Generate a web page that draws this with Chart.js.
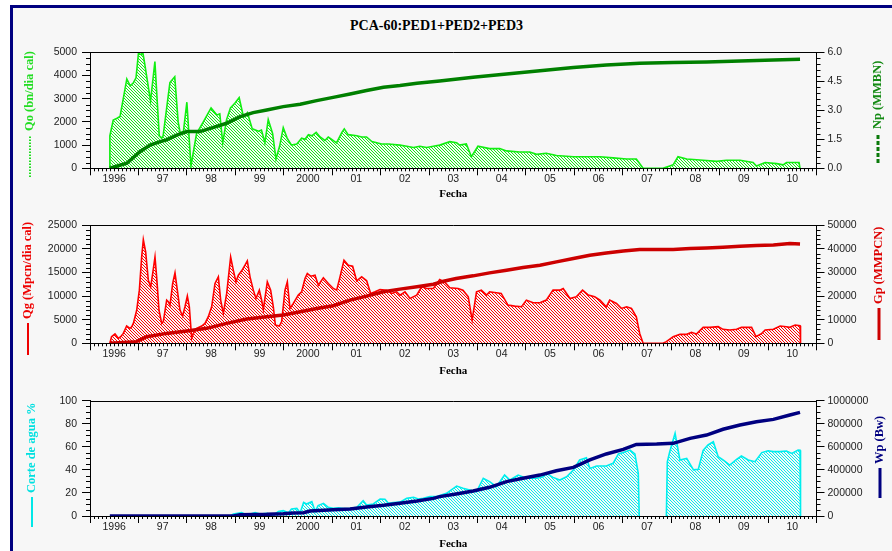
<!DOCTYPE html>
<html>
<head>
<meta charset="utf-8">
<script src="https://cdn.jsdelivr.net/npm/chart.js@4.4.0/dist/chart.umd.min.js"></script>
<style>
  body { margin: 0; background: #fff; }
  #page { position: relative; width: 892px; height: 551px; overflow: hidden; }
  #frame { position: absolute; left: 10px; top: 5px; right: 0; bottom: 0; background: #f7f7f7;
           border-top: 3px solid #000080; border-left: 3px solid #000080; }
  #title { position: absolute; left: 0; width: 873px; top: 18px; text-align: center;
           font: bold 14px "Liberation Serif"; color: #000; }
  canvas { position: absolute; left: 0; }
</style>
</head>
<body>
<div id="page">
  <div id="frame"></div>
  <div id="title">PCA-60:PED1+PED2+PED3</div>
  <canvas id="c1" width="892" height="170" style="top:40px"></canvas>
  <canvas id="c2" width="892" height="168" style="top:212px"></canvas>
  <canvas id="c3" width="892" height="163" style="top:388px"></canvas>
</div>
<script>
// values, x = decimal year
const yearLabels = ['1996', '97', '98', '99', '2000', '01', '02', '03', '04', '05', '06', '07', '08', '09', '10'];

// Qo (bn/dia cal)
const qoSeries = [
  [1996.40, 0], [1996.41, 1400], [1996.48, 2080], [1996.55, 2150], [1996.62, 2230], [1996.76, 3850],
  [1996.83, 3550], [1996.90, 3700], [1996.95, 3900], [1997.00, 4950], [1997.06, 4900], [1997.09, 5000],
  [1997.13, 4500], [1997.25, 2900], [1997.34, 4600], [1997.43, 1400], [1997.48, 1300], [1997.51, 1400],
  [1997.65, 3700], [1997.75, 3950], [1997.82, 2000], [1997.86, 1550], [1997.91, 1550], [1997.93, 1600],
  [1998.00, 2850], [1998.085, 100], [1998.20, 1500], [1998.34, 2000], [1998.50, 2600], [1998.62, 2300],
  [1998.68, 2350], [1998.74, 1100], [1998.82, 2100], [1998.90, 2600], [1998.99, 2800], [1999.08, 3050],
  [1999.17, 2200], [1999.25, 2400], [1999.35, 1700], [1999.48, 1600], [1999.54, 1650], [1999.61, 1100],
  [1999.68, 2100], [1999.77, 1500], [1999.84, 400], [1999.92, 1000], [1999.99, 1750], [2000.07, 1300],
  [2000.16, 1000], [2000.27, 1050], [2000.37, 1300], [2000.44, 1250], [2000.51, 1450], [2000.58, 1400],
  [2000.67, 1550], [2000.75, 1350], [2000.85, 1200], [2000.92, 1350], [2000.99, 1250], [2001.09, 1100],
  [2001.20, 1550], [2001.25, 1700], [2001.33, 1450], [2001.51, 1400], [2001.61, 1350], [2001.71, 1350],
  [2001.82, 1150], [2001.92, 1100], [2002.02, 1050], [2002.16, 1050], [2002.40, 1000], [2002.54, 950],
  [2002.68, 900], [2002.81, 950], [2002.95, 900], [2003.09, 950], [2003.22, 1000], [2003.43, 1150],
  [2003.57, 1100], [2003.63, 1000], [2003.77, 1050], [2003.875, 500], [2004.01, 950], [2004.25, 850],
  [2004.46, 850], [2004.60, 750], [2004.87, 700], [2005.08, 700], [2005.22, 600], [2005.42, 650],
  [2005.63, 550], [2005.98, 500], [2006.25, 500], [2006.53, 500], [2006.80, 450], [2007.08, 400],
  [2007.28, 400], [2007.42, 0], [2007.83, 0], [2007.97, 100], [2008.04, 150], [2008.14, 500],
  [2008.32, 400], [2008.66, 350], [2008.94, 300], [2009.14, 350], [2009.42, 350], [2009.69, 250],
  [2009.76, 100], [2009.94, 250], [2010.18, 200], [2010.31, 150], [2010.38, 250], [2010.64, 250],
  [2010.66, 0]
];

// Np (MMBN)
const npSeries = [
  [1996.41, 0], [1996.76, 0.26], [1997.03, 0.86], [1997.24, 1.2], [1997.45, 1.38], [1997.58, 1.47],
  [1997.79, 1.72], [1998.00, 1.9], [1998.27, 1.9], [1998.55, 2.12], [1998.82, 2.33], [1999.10, 2.67],
  [1999.37, 2.88], [1999.65, 3.02], [1999.99, 3.19], [2000.34, 3.31], [2000.68, 3.5], [2001.02, 3.67],
  [2001.37, 3.84], [2001.71, 4.02], [2002.06, 4.19], [2002.40, 4.28], [2002.75, 4.4], [2003.22, 4.52],
  [2003.91, 4.71], [2004.60, 4.88], [2005.29, 5.05], [2005.98, 5.21], [2006.66, 5.34], [2007.35, 5.43],
  [2008.04, 5.47], [2008.73, 5.5], [2009.42, 5.55], [2010.11, 5.6], [2010.66, 5.64]
];

// Qg (Mpcn/dia cal)
const qgSeries = [
  [1996.41, 0], [1996.445, 1400], [1996.516, 1970], [1996.585, 1050], [1996.633, 1400], [1996.688, 2100],
  [1996.757, 3660], [1996.826, 3170], [1996.86, 3500], [1996.895, 4220], [1996.964, 7000], [1997.019, 11260],
  [1997.067, 18300], [1997.101, 21960], [1997.149, 19360], [1997.204, 13380], [1997.253, 11970], [1997.294, 14780],
  [1997.342, 18300], [1997.376, 14080], [1997.425, 7040], [1997.48, 4220], [1997.514, 4580], [1997.583, 9150],
  [1997.617, 8800], [1997.652, 8100], [1997.707, 12670], [1997.755, 14920], [1997.803, 11260], [1997.858, 7040],
  [1997.913, 5770], [1997.961, 7740], [1998.01, 10000], [1998.051, 7740], [1998.099, 1050], [1998.134, 2100],
  [1998.202, 3170], [1998.306, 3660], [1998.374, 4220], [1998.443, 5630], [1998.512, 7740], [1998.581, 12670],
  [1998.65, 14080], [1998.698, 9150], [1998.753, 6340], [1998.822, 10560], [1998.904, 18300], [1998.959, 15490],
  [1999.014, 13020], [1999.063, 14430], [1999.131, 15350], [1999.2, 16540], [1999.248, 17460], [1999.304, 14080],
  [1999.372, 11260], [1999.427, 9500], [1999.496, 11260], [1999.544, 9150], [1999.579, 7180], [1999.661, 13020],
  [1999.73, 11260], [1999.785, 7740], [1999.827, 3870], [1999.909, 3660], [1999.957, 4580], [2000.026, 11260],
  [2000.074, 13020], [2000.129, 7390], [2000.198, 8450], [2000.301, 10210], [2000.37, 10910], [2000.439, 13730],
  [2000.487, 14780], [2000.556, 14220], [2000.646, 14430], [2000.714, 12320], [2000.818, 13870], [2000.921, 12670],
  [2001.024, 11620], [2001.093, 11260], [2001.162, 14080], [2001.244, 17600], [2001.334, 16540], [2001.423, 16330],
  [2001.506, 13240], [2001.609, 14080], [2001.712, 13240], [2001.795, 10560], [2001.884, 10910], [2001.988, 11400],
  [2002.125, 11260], [2002.228, 10560], [2002.332, 10910], [2002.401, 10210], [2002.504, 10910], [2002.607, 9500],
  [2002.745, 10210], [2002.848, 11970], [2002.951, 11620], [2003.089, 11620], [2003.22, 13500], [2003.32, 13000],
  [2003.43, 11760], [2003.6, 11620], [2003.7, 11260], [2003.81, 9860], [2003.89, 4930], [2003.98, 10910],
  [2004.08, 11260], [2004.19, 10210], [2004.25, 10910], [2004.39, 10700], [2004.49, 10560], [2004.63, 8100],
  [2004.77, 7880], [2004.91, 7740], [2005.01, 9150], [2005.15, 8590], [2005.29, 8590], [2005.42, 9150],
  [2005.56, 11260], [2005.7, 11260], [2005.77, 11620], [2005.91, 9500], [2006.04, 9860], [2006.17, 11260],
  [2006.29, 10210], [2006.42, 9860], [2006.53, 9150], [2006.66, 7740], [2006.73, 9150], [2006.87, 8450],
  [2006.97, 7390], [2007.08, 7740], [2007.18, 7390], [2007.28, 5630], [2007.35, 2100], [2007.42, 0],
  [2007.83, 0], [2007.9, 350], [2008.04, 1400], [2008.18, 1900], [2008.32, 1900], [2008.42, 2320],
  [2008.52, 1970], [2008.66, 3380], [2008.8, 3380], [2008.97, 3520], [2009.07, 2960], [2009.21, 2820],
  [2009.35, 2960], [2009.45, 3380], [2009.66, 3380], [2009.75, 1400], [2009.87, 2100], [2009.94, 2820],
  [2010.11, 2960], [2010.25, 3660], [2010.38, 3520], [2010.45, 3380], [2010.56, 3870], [2010.66, 3730],
  [2010.67, 0]
];

// Gp (MMPCN)
const gpSeries = [
  [1996.41, 0], [1996.96, 700], [1997.17, 2800], [1997.58, 4200], [1998.0, 5200], [1998.41, 6340],
  [1998.82, 8450], [1999.24, 10280], [1999.65, 11260], [1999.99, 11970], [2000.34, 13380], [2000.68, 14780],
  [2001.02, 15910], [2001.37, 18300], [2001.71, 20000], [2002.06, 21820], [2002.4, 22950], [2002.75, 23940],
  [2003.09, 25000], [2003.3, 26300], [2003.56, 27460], [2003.91, 28580], [2004.25, 29850], [2004.6, 30980],
  [2004.94, 32100], [2005.29, 33090], [2005.63, 34500], [2005.98, 35900], [2006.32, 37310], [2006.66, 38300],
  [2007.01, 39140], [2007.35, 39700], [2007.7, 39700], [2008.04, 39700], [2008.39, 40130], [2008.73, 40410],
  [2009.07, 40690], [2009.42, 41110], [2009.76, 41400], [2010.11, 41680], [2010.45, 42240], [2010.66, 42100]
];

// Corte de agua %
const wcSeries = [
  [1996.41, 0], [1998.9, 0], [1998.96, 1.7], [1999.13, 2.9], [1999.24, 0.9], [1999.41, 2.9], [1999.51, 1.7],
  [1999.65, 2.3], [1999.79, 0.9], [1999.89, 3.8], [1999.99, 4.6], [2000.1, 2.9], [2000.16, 6.1], [2000.27, 6.6],
  [2000.34, 2.9], [2000.41, 11.8], [2000.47, 10.4], [2000.58, 12.4], [2000.65, 3.8], [2000.71, 9], [2000.82, 11],
  [2000.92, 7.5], [2001.02, 6.6], [2001.13, 7.2], [2001.23, 6.4], [2001.37, 6.6], [2001.51, 7.5], [2001.64, 13.3],
  [2001.71, 9.5], [2001.85, 10.4], [2001.99, 14.7], [2002.09, 14.5], [2002.16, 11], [2002.26, 11.6], [2002.4, 12],
  [2002.54, 15.3], [2002.68, 16.2], [2002.78, 14.7], [2002.88, 15.3], [2003.02, 16.8], [2003.16, 16.8],
  [2003.36, 19.7], [2003.57, 26], [2003.7, 24], [2003.84, 22.5], [2003.98, 21], [2004.12, 32.7], [2004.25, 29.8],
  [2004.39, 25.4], [2004.56, 35.5], [2004.67, 31.2], [2004.84, 35.5], [2005.01, 32.7], [2005.22, 32.7],
  [2005.36, 34], [2005.42, 37], [2005.56, 33.5], [2005.7, 31.2], [2005.84, 34], [2005.98, 39.9], [2006.11, 48.6],
  [2006.25, 50.6], [2006.32, 41.3], [2006.46, 43.4], [2006.66, 43.4], [2006.8, 45.7], [2006.91, 53.8],
  [2007.01, 55], [2007.15, 57.2], [2007.25, 53.8], [2007.32, 37], [2007.34, 0], [2007.6, null],
  [2007.9, 0], [2007.92, 47], [2007.97, 55.8], [2008.08, 71.7], [2008.18, 48.6], [2008.32, 50], [2008.46, 40],
  [2008.56, 40.5], [2008.66, 57], [2008.76, 61.6], [2008.87, 64.5], [2008.97, 51.4], [2009.07, 48.6],
  [2009.21, 44.2], [2009.35, 49], [2009.45, 52], [2009.59, 48.6], [2009.73, 47.1], [2009.87, 55], [2010.0, 56.6],
  [2010.11, 55.8], [2010.25, 55.8], [2010.38, 56.4], [2010.49, 54.3], [2010.62, 57.2], [2010.66, 57],
  [2010.67, 0]
];

// Wp (Bw)
const wpSeries = [
  [1996.41, 0], [1998.96, 0], [1999.1, 11500], [1999.65, 14500], [1999.99, 20000], [2000.2, 26000],
  [2000.41, 29000], [2000.54, 43000], [2001.02, 55000], [2001.37, 61000], [2001.71, 78000], [2002.06, 92500],
  [2002.4, 110000], [2002.75, 130000], [2003.09, 153000], [2003.22, 168000], [2003.56, 191000], [2003.91, 217000],
  [2004.25, 249000], [2004.6, 298000], [2004.94, 327000], [2005.29, 355000], [2005.63, 393000], [2005.98, 422000],
  [2006.32, 486000], [2006.66, 538000], [2007.01, 578000], [2007.28, 621000], [2007.7, 624000], [2008.04, 630000],
  [2008.39, 673000], [2008.73, 702000], [2009.07, 752000], [2009.42, 789000], [2009.76, 818000], [2010.11, 838000],
  [2010.45, 876000], [2010.66, 899000]
];

Chart.defaults.font.family = 'Liberation Sans';
Chart.defaults.font.size = 10.5;
Chart.defaults.color = '#222';

function hatch(color) {
  const c = document.createElement('canvas');
  c.width = 3; c.height = 3;
  const g = c.getContext('2d');
  g.fillStyle = color;
  for (let i = 0; i < 3; i++) g.fillRect(i, i, 1, 1);
  return g.createPattern(c, 'repeat');
}

const toPoints = s => s.map(p => ({ x: p[0], y: p[1] }));

// small monthly / sub-division tick marks on the axes
const minorTicks = {
  id: 'minorTicks',
  afterDraw(chart, args, opts) {
    const ctx = chart.ctx;
    ctx.save();
    ctx.strokeStyle = '#000';
    ctx.lineWidth = 1;
    ctx.beginPath();
    for (const [id, step, every, len] of opts.list) {
      const s = chart.scales[id];
      const n = Math.round((s.max - s.min) / step);
      for (let i = 0; i <= n; i++) {
        if (i % every === 0) continue;
        const p = Math.round(s.getPixelForValue(s.min + i * step)) + 0.5;
        if (s.isHorizontal()) {
          ctx.moveTo(p, s.top); ctx.lineTo(p, s.top + len);
        } else if (s.position === 'left') {
          ctx.moveTo(s.right, p); ctx.lineTo(s.right - len, p);
        } else {
          ctx.moveTo(s.left, p); ctx.lineTo(s.left + len, p);
        }
      }
    }
    ctx.stroke();
    // top edge of the plot box
    const a = chart.chartArea;
    const y = Math.round(a.top) + 0.5;
    ctx.beginPath();
    ctx.moveTo(a.left, y);
    ctx.lineTo(a.right, y);
    ctx.stroke();
    ctx.restore();
  }
};

// vertical axis names with their line sample, read bottom to top
const sideLabels = {
  id: 'sideLabels',
  afterDraw(chart, args, opts) {
    const ctx = chart.ctx;
    for (const it of opts.items) {
      ctx.save();
      ctx.translate(it.x, it.y);
      ctx.rotate(-Math.PI / 2);
      ctx.strokeStyle = it.lineColor;
      ctx.lineWidth = it.lineWidth;
      ctx.setLineDash(it.dash || []);
      ctx.beginPath();
      ctx.moveTo(0, 0);
      ctx.lineTo(it.len, 0);
      ctx.stroke();
      ctx.setLineDash([]);
      ctx.font = 'bold 12.5px "Liberation Serif"';
      ctx.fillStyle = it.color;
      ctx.textBaseline = 'middle';
      ctx.textAlign = 'left';
      ctx.fillText(it.text, it.len + 4, 0);
      ctx.restore();
    }
  }
};

function panel(id, cfg) {
  return new Chart(document.getElementById(id), {
    type: 'line',
    data: {
      datasets: [
        {
          data: toPoints(cfg.cum), yAxisID: 'y1', borderColor: cfg.cumColor, borderWidth: 3.5,
          pointRadius: 0, fill: false, order: 1
        },
        {
          data: toPoints(cfg.rate), yAxisID: 'y', borderColor: cfg.rateColor, borderWidth: 1.6,
          backgroundColor: hatch(cfg.rateColor), fill: 'origin', pointRadius: 0, order: 2
        }
      ]
    },
    options: {
      responsive: false,
      animation: false,
      devicePixelRatio: 1,
      layout: { padding: { top: cfg.padTop, left: 0, right: 0, bottom: 0 } },
      plugins: {
        legend: { display: false },
        tooltip: { enabled: false },
        minorTicks: {
          list: [['x', 1 / 12, 12, 3], ['y', cfg.leftMinor, cfg.leftEvery, 4], ['y1', cfg.rightMinor, cfg.rightEvery, 4]]
        },
        sideLabels: { items: cfg.labels }
      },
      scales: {
        x: {
          type: 'linear', position: 'bottom', min: 1996, max: 2011,
          afterFit: s => { s.height = cfg.xHeight; },
          ticks: {
            stepSize: 1, autoSkip: false, maxRotation: 0, labelOffset: 24.2, padding: -2,
            callback: v => yearLabels[Math.round(v) - 1996] || ''
          },
          grid: { drawOnChartArea: false, tickLength: 7, tickColor: '#000' },
          border: { color: '#000' },
          title: {
            display: true, text: 'Fecha', color: '#000',
            font: { family: 'Liberation Serif', weight: 'bold', size: 11 },
            padding: { top: 0, bottom: cfg.fechaPad }
          }
        },
        y: {
          position: 'left', min: 0, max: cfg.leftMax,
          afterFit: s => { s.width = 90; },
          ticks: { stepSize: cfg.leftStep, padding: 5, callback: v => String(v) },
          grid: { drawOnChartArea: false, tickLength: 8, tickColor: '#000' },
          border: { color: '#000' }
        },
        y1: {
          position: 'right', min: 0, max: cfg.rightMax,
          afterFit: s => { s.width = 75.5; },
          ticks: { stepSize: cfg.rightStep, padding: 3, callback: cfg.rightFmt },
          grid: { drawOnChartArea: false, tickLength: 8, tickColor: '#000' },
          border: { color: '#000' }
        }
      }
    },
    plugins: [minorTicks, sideLabels]
  });
}

panel('c1', {
  rate: qoSeries, cum: npSeries, rateColor: '#11ee11', cumColor: '#008000',
  padTop: 12.3, xHeight: 41.7, fechaPad: 9.4,
  leftMax: 5000, leftStep: 1000, leftMinor: 250, leftEvery: 4,
  rightMax: 6, rightStep: 1.5, rightMinor: 0.3, rightEvery: 5, rightFmt: v => v.toFixed(1),
  labels: [
    { text: 'Qo (bn/dia cal)', color: '#22dd22', x: 30, y: 137, len: 42, lineColor: '#22dd22', lineWidth: 2, dash: [1.5, 1.5] },
    { text: 'Np (MMBN)', color: '#138a13', x: 878, y: 123, len: 30, lineColor: '#0a7a0a', lineWidth: 3, dash: [4, 2] }
  ]
});

panel('c2', {
  rate: qgSeries, cum: gpSeries, rateColor: '#ff0000', cumColor: '#cc0000',
  padTop: 13.3, xHeight: 36.7, fechaPad: 2.4,
  leftMax: 25000, leftStep: 5000, leftMinor: 1000, leftEvery: 5,
  rightMax: 50000, rightStep: 10000, rightMinor: 2000, rightEvery: 5, rightFmt: v => String(v),
  labels: [
    { text: 'Qg (Mpcn/dia cal)', color: '#ee0000', x: 28, y: 143, len: 32, lineColor: '#ee0000', lineWidth: 2 },
    { text: 'Gp (MMPCN)', color: '#dd0000', x: 879, y: 128, len: 32, lineColor: '#cc0000', lineWidth: 3 }
  ]
});

panel('c3', {
  rate: wcSeries, cum: wpSeries, rateColor: '#00eeee', cumColor: '#000080',
  padTop: 12.7, xHeight: 35, fechaPad: 0.4,
  leftMax: 100, leftStep: 20, leftMinor: 5, leftEvery: 4,
  rightMax: 1000000, rightStep: 200000, rightMinor: 50000, rightEvery: 4, rightFmt: v => String(v),
  labels: [
    { text: 'Corte de agua %', color: '#00e0e0', x: 32, y: 139, len: 30, lineColor: '#00e8e8', lineWidth: 2 },
    { text: 'Wp (Bw)', color: '#000080', x: 880, y: 110, len: 30, lineColor: '#000080', lineWidth: 3 }
  ]
});
</script>
</body>
</html>
